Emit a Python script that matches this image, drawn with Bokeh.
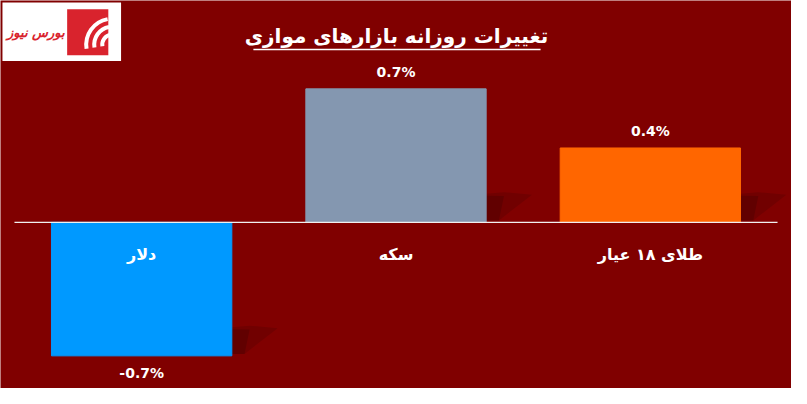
from bokeh.plotting import figure
from bokeh.models import ColumnDataSource, Range1d, Label
from bokeh.embed import file_html
from bokeh.resources import INLINE
from bokeh.core.properties import value

# ---- data ----
categories = ["دلار", "سکه", "طلای ۱۸ عیار"]
changes = [-0.7, 0.7, 0.39]
value_labels = ["-0.7%", "0.7%", "0.4%"]
bar_colors = ["#0099FF", "#8497B0", "#FF6600"]
title_text = "تغییرات روزانه بازارهای موازی"
logo_text = "بورس نیوز"

BG = "#800000"
W, H = 791, 388
SX, SY = W / 807, H / 404
PXX = 259.5 * SX          # pixels per category
PXY = (139 / 0.7) * SY    # pixels per unit of change
X0 = -14.25 * SX / PXX
X1 = X0 + W / PXX
ZERO_PX = 231 * SY
YT = ZERO_PX / PXY
YB = -(H - ZERO_PX) / PXY
BAR_W = 0.709

def xs(px):  # reference pixel -> data x
    return X0 + px * SX / PXX

def ys(py):  # reference pixel -> data y
    return YT - py * SY / PXY

p = figure(width=W, height=H, output_backend="svg", toolbar_location=None,
           x_axis_type=None, y_axis_type=None, min_border=0,
           x_range=Range1d(X0, X1), y_range=Range1d(YB, YT))
p.background_fill_color = BG
p.border_fill_color = BG
p.outline_line_color = None
p.grid.visible = False

xpos = [i + 0.5 for i in range(len(categories))]
src = ColumnDataSource(dict(
    x=xpos, top=changes, color=bar_colors, cat=categories, lab=value_labels,
    off=[-17 if v >= 0 else 17 for v in changes],
))

# soft shadows at the lower right of each bar
sh_x, sh_y = [], []
for xc, v in zip(xpos, changes):
    r = xc + BAR_W / 2
    lo = min(0, v)
    sh_x.append([r, r, r + 0.07, r + 0.18, r + 0.05])
    sh_y.append([lo + 0.01, lo + 0.15, lo + 0.158, lo + 0.145, lo + 0.01])
p.patches(sh_x, sh_y, fill_color="#3a0000", fill_alpha=0.22, line_color=None)
sh_x2 = [[a[0], a[1], a[2], a[4]] for a in sh_x]
sh_y2 = [[b[0], b[1] - 0.01, b[2] - 0.02, b[4]] for b in sh_y]
p.patches(sh_x2, sh_y2, fill_color="#3a0000", fill_alpha=0.28, line_color=None)

p.vbar(x="x", top="top", bottom=0, width=BAR_W, color="color", source=src)
p.segment(x0=0, y0=0, x1=len(categories), y1=0, line_color="#f0f0f0", line_width=1.2)

p.text(x="x", y="top", text="lab", y_offset="off", source=src,
       text_align="center", text_baseline="middle", text_color="white",
       text_font=value("DejaVu Sans"), text_font_style="bold", text_font_size="14px")
p.text(x="x", y=0, text="cat", y_offset=32, source=src,
       text_align="center", text_baseline="middle", text_color="white",
       text_font=value("DejaVu Sans"), text_font_style="bold", text_font_size="16px")

# title with underline
p.add_layout(Label(x=xs(404), y=ys(37), text=title_text, text_align="center",
                   text_baseline="middle", text_color="white", text_font="DejaVu Sans",
                   text_font_style="bold", text_font_size="20px"))
p.segment(x0=xs(258), y0=ys(51), x1=xs(551), y1=ys(51), line_color="white", line_width=1.5)

# logo
p.quad(left=xs(2), right=xs(123), top=ys(2), bottom=ys(63), fill_color="white", line_color=None)
p.quad(left=xs(68), right=xs(110), top=ys(9), bottom=ys(57), fill_color="#D9232D", line_color=None)
for r in (10, 18, 26):
    p.arc(x=xs(114), y=ys(46), radius=r, radius_units="screen",
          start_angle=1.75, end_angle=3.3, line_color="white", line_width=4)
p.add_layout(Label(x=xs(36), y=ys(33), text=logo_text, text_align="center",
                   text_baseline="middle", text_color="#D9232D", text_font="DejaVu Sans",
                   text_font_style="bold italic", text_font_size="13px"))

open("out.html", "w").write(file_html(p, INLINE))
